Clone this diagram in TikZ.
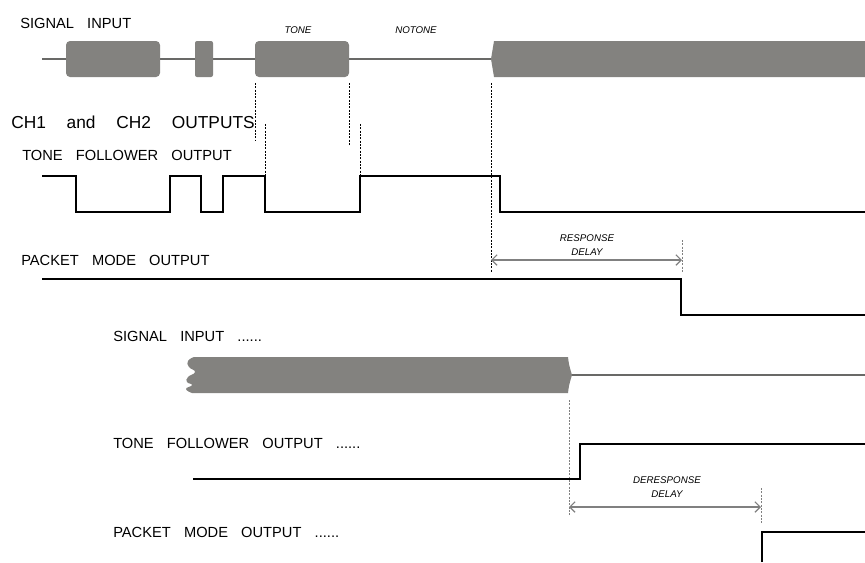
\documentclass[tikz,border=0pt]{standalone}
\usepackage{fontspec}
\setmainfont{Liberation Sans}
\usetikzlibrary{arrows.meta}
\definecolor{sigfill}{RGB}{131,130,127}
\definecolor{sigwire}{RGB}{105,105,103}
\newcommand{\wg}{\hspace{0.9em}}

\begin{document}
\begin{tikzpicture}[x=0.75pt, y=-0.75pt,
	every node/.style={font=\fontsize{11}{13}\selectfont, inner sep=0pt, anchor=base west},
	wave/.style={line width=1.6pt},
	sigbox/.style={fill=sigfill},
	sigline/.style={draw=sigwire, line width=1.1pt},
	guide/.style={line width=0.5pt, dash pattern=on 1.5pt off 1pt},
	delay/.style={draw=gray, line width=0.9pt, <->, >={Straight Barb[length=1.4mm, width=2.8mm]}},
	tag/.style={font=\fontsize{7.3}{11}\selectfont\itshape, align=center, anchor=south}]
	\useasboundingbox (0,0) rectangle (865,562);
	% upper diagram
	\node (sigin) at (20,28) {SIGNAL\wg INPUT};
	\draw[sigline] (42,59) -- (494,59);
	\fill[sigbox, rounded corners=3pt] (66,41) rectangle (160,77);
	\fill[sigbox, rounded corners=1.5pt] (195,41) rectangle (213,77);
	\fill[sigbox, rounded corners=3pt] (255,41) rectangle (349,77);
	\fill[sigbox] (494,41) .. controls (493,50) .. (491,59) .. controls (493,68) .. (494,77) -- (865,77) -- (865,41) -- cycle;
	\node[tag, anchor=base] (tone) at (298,33) {TONE};
	\node[tag, anchor=base] (notone) at (416,33) {NOTONE};
	\draw[guide] (255,83) -- (255,140);
	\draw[guide] (349,83) -- (349,145);
	\draw[guide] (265,124) -- (265,175);
	\draw[guide] (360,124) -- (360,175);
	\draw[guide] (491,83) -- (491,272);
	\draw[guide, gray] (682,240) -- (682,272);
	\node[font=\fontsize{13}{15}\selectfont] (chout) at (11,128) {CH1\hspace{1.2em}and\hspace{1.2em}CH2\hspace{1.2em}OUTPUTS};
	\node (tfout) at (22,160) {TONE\wg FOLLOWER\wg OUTPUT};
	\draw[wave] (42,176) -| (76,212) -| (170,176) -| (201,212) -| (223,176) -| (265,212) -| (360,176) -| (500,212) -- (865,212);
	\coordinate (rs) at (491,260);
	\coordinate (re) at (682,260);
	\draw[delay] (rs) -- (re);
	\node[tag] (resp) at (587,256) {RESPONSE\\DELAY};
	\node (pmout) at (21,265) {PACKET\wg MODE\wg OUTPUT};
	\draw[wave] (42,279) -| (681,315) -- (865,315);
	% lower diagram
	\node (sigin2) at (113,341) {SIGNAL\wg INPUT\wg ......};
	\fill[sigbox] plot[smooth, tension=0.9] coordinates {(194,357) (188,361) (189,367) (195,372) (188,377) (187,382) (192,385) (186,389) (192,393)} -- (568,393) .. controls (569,385) .. (572,375) .. controls (569,365) .. (568,357) -- cycle;
	\draw[sigline] (572,375) -- (865,375);
	\draw[guide, gray] (569,400) -- (569,515);
	\draw[guide, gray] (761,488) -- (761,523);
	\node (tfout2) at (113,448) {TONE\wg FOLLOWER\wg OUTPUT\wg ......};
	\draw[wave] (193,479) -| (580,444) -- (865,444);
	\coordinate (ds) at (569,507);
	\coordinate (de) at (761,507);
	\draw[delay] (ds) -- (de);
	\node[tag] (deresp) at (667,498) {DERESPONSE\\DELAY};
	\node (pmout2) at (113,537) {PACKET\wg MODE\wg OUTPUT\wg ......};
	\draw[wave] (762,562) |- (865,532);
\end{tikzpicture}
\end{document}
